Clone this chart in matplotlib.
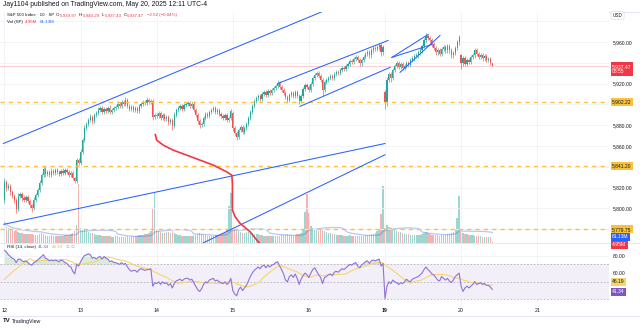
import numpy as np
import pandas as pd
import matplotlib
matplotlib.use("Agg")
import matplotlib.pyplot as plt
from matplotlib.lines import Line2D

plt.rcParams["font.family"] = ["Liberation Sans", "DejaVu Sans"]

# S&P 500 index, 10-minute bars, one list per session (May 12 .. May 20)
sessions = ["12", "13", "14", "15", "16", "19", "20", "21"]
session_open = [5807.9, 5843.5, 5889.6, 5891.5, 5916.5, 5911.7, 5947.2]

close_12 = [5825.2, 5819.5, 5821.4, 5815.6, 5811.8, 5807.9, 5799.3, 5811.8, 5813.7, 5809.9,
            5807.9, 5810.8, 5807.0, 5803.1, 5800.3, 5807.9, 5812.8, 5817.6, 5824.3, 5831.9,
            5837.7, 5832.9, 5834.8, 5831.9, 5835.8, 5833.9, 5836.8, 5834.8, 5832.9, 5835.8,
            5833.9, 5836.8, 5834.8, 5831.9, 5833.9, 5829.1, 5826.2, 5846.4, 5843.5]
close_13 = [5854.1, 5865.6, 5877.1, 5880.9, 5884.8, 5887.7, 5883.8, 5889.6, 5891.5, 5894.4,
            5896.3, 5892.5, 5895.4, 5893.4, 5896.3, 5892.5, 5894.4, 5896.3, 5897.3, 5900.2,
            5898.3, 5902.1, 5900.2, 5904.0, 5898.3, 5895.4, 5897.3, 5894.4, 5896.3, 5893.4,
            5898.3, 5900.2, 5902.1, 5901.1, 5904.0, 5902.1, 5903.0, 5887.7, 5889.6]
close_14 = [5888.6, 5891.5, 5886.7, 5889.6, 5885.7, 5887.7, 5882.9, 5884.8, 5879.0, 5889.6,
            5894.4, 5896.3, 5898.3, 5895.4, 5899.2, 5900.2, 5901.1, 5898.3, 5900.2, 5894.4,
            5889.6, 5883.8, 5880.0, 5880.9, 5886.7, 5890.6, 5888.6, 5892.5, 5894.4, 5896.3,
            5892.5, 5894.4, 5890.6, 5888.6, 5886.7, 5889.6, 5884.8, 5886.7, 5893.4]
close_15 = [5877.1, 5872.3, 5868.5, 5875.2, 5878.1, 5873.3, 5877.1, 5880.9, 5886.7, 5892.5,
            5898.3, 5903.0, 5905.9, 5907.9, 5905.0, 5909.8, 5911.7, 5908.8, 5912.7, 5910.7,
            5913.6, 5915.5, 5917.4, 5920.3, 5916.5, 5913.6, 5910.7, 5906.9, 5904.0, 5908.8,
            5910.7, 5907.9, 5911.7, 5907.9, 5903.0, 5907.9, 5914.6, 5918.4, 5916.5]
close_16 = [5913.6, 5919.4, 5925.1, 5928.0, 5929.9, 5927.1, 5923.2, 5913.6, 5921.3, 5923.2,
            5925.1, 5927.1, 5925.1, 5929.0, 5930.9, 5929.9, 5932.8, 5934.7, 5933.8, 5936.7,
            5938.6, 5941.5, 5940.5, 5943.4, 5945.3, 5942.4, 5939.5, 5942.4, 5945.3, 5948.2,
            5950.1, 5947.2, 5952.0, 5954.0, 5953.0, 5954.9, 5956.8, 5950.1, 5954.9]
close_19 = [5901.1, 5923.2, 5929.0, 5925.1, 5932.8, 5936.7, 5939.5, 5935.7, 5938.6, 5934.7,
            5936.7, 5939.5, 5937.6, 5942.4, 5944.3, 5946.3, 5947.2, 5950.1, 5952.0, 5955.9,
            5961.6, 5965.5, 5963.6, 5961.6, 5957.8, 5954.0, 5950.1, 5952.0, 5948.2, 5953.0,
            5954.9, 5952.0, 5955.9, 5952.0, 5947.2, 5949.2, 5954.0, 5959.7, 5964.5]
close_20 = [5939.5, 5944.3, 5938.6, 5942.4, 5940.5, 5945.3, 5947.2, 5952.0, 5948.2, 5945.3,
            5947.2, 5944.3, 5946.3, 5942.4, 5943.4, 5939.97, 5937.47]

# wick length above / below the body, index points
up_12 = [4, 2, 3, 2, 2, 2, 2, 3, 2, 2, 3, 2, 2, 2, 1, 3, 2, 2, 3, 2,
         3, 2, 2, 2, 3, 2, 2, 2, 2, 2, 3, 2, 2, 2, 2, 2, 1, 2, 2]
dn_12 = [3, 3, 2, 3, 2, 3, 4, 2, 2, 3, 2, 2, 2, 3, 4, 2, 2, 2, 2, 2,
         2, 3, 2, 2, 2, 2, 2, 2, 2, 2, 2, 2, 2, 2, 2, 2, 2, 2, 2]
up_13 = [3, 2, 3, 2, 2, 3, 2, 2, 2, 3, 2, 2, 2, 2, 2, 3, 2, 2, 2, 3,
         2, 2, 2, 3, 2, 2, 2, 2, 2, 2, 2, 2, 2, 2, 3, 2, 2, 2, 2]
dn_13 = [2, 2, 2, 2, 2, 2, 3, 2, 2, 2, 2, 2, 2, 2, 2, 2, 2, 2, 2, 2,
         2, 2, 2, 2, 2, 2, 2, 2, 2, 2, 2, 2, 2, 2, 2, 2, 2, 3, 2]
up_14 = [2, 2, 2, 2, 2, 2, 2, 2, 2, 3, 2, 2, 2, 2, 2, 2, 2, 2, 2, 2,
         2, 2, 2, 2, 2, 2, 2, 2, 2, 2, 2, 2, 2, 2, 2, 2, 2, 2, 2]
dn_14 = [2, 2, 2, 2, 2, 2, 3, 2, 4, 2, 2, 2, 2, 2, 2, 2, 2, 2, 2, 2,
         2, 3, 3, 2, 2, 2, 2, 2, 2, 2, 2, 2, 2, 2, 2, 2, 2, 2, 2]
up_15 = [2, 2, 2, 2, 2, 2, 2, 2, 2, 2, 2, 2, 2, 2, 2, 2, 2, 2, 2, 2,
         2, 2, 2, 3, 2, 2, 2, 2, 2, 2, 2, 2, 2, 2, 2, 2, 2, 2, 2]
dn_15 = [3, 3, 3, 2, 2, 2, 2, 2, 2, 2, 2, 2, 2, 2, 2, 2, 2, 2, 2, 2,
         2, 2, 2, 2, 2, 2, 2, 2, 3, 2, 2, 2, 2, 2, 3, 2, 2, 2, 2]
up_16 = [2, 2, 2, 2, 2, 2, 2, 2, 2, 2, 2, 2, 2, 2, 2, 2, 2, 2, 2, 2,
         2, 2, 2, 2, 2, 2, 2, 2, 2, 2, 2, 2, 2, 2, 2, 2, 2, 2, 2]
dn_16 = [2, 2, 2, 2, 2, 2, 2, 5, 2, 2, 2, 2, 2, 2, 2, 2, 2, 2, 2, 2,
         2, 2, 2, 2, 2, 2, 2, 2, 2, 2, 2, 2, 2, 2, 2, 2, 2, 3, 2]
up_19 = [2, 3, 2, 2, 2, 2, 2, 2, 2, 2, 2, 2, 2, 2, 2, 2, 2, 2, 2, 2,
         2, 3, 2, 2, 2, 2, 2, 2, 2, 2, 2, 2, 2, 2, 2, 2, 2, 2, 2]
dn_19 = [5, 3, 2, 3, 2, 2, 2, 2, 2, 2, 2, 2, 2, 2, 2, 2, 2, 2, 2, 2,
         2, 2, 2, 2, 2, 2, 2, 2, 2, 2, 2, 2, 2, 2, 2, 2, 2, 2, 2]
up_20 = [1, 2, 2, 2, 2, 2, 2, 2, 2, 2, 2, 2, 2, 2, 2, 2, 0.32]
dn_20 = [5, 2, 2, 2, 2, 2, 2, 2, 2, 2, 2, 2, 2, 2, 2, 2, 0.04]

# volume, millions
vol_12 = [122, 95, 88, 80, 74, 70, 78, 64, 60, 56, 54, 50, 55, 50, 54, 48, 46, 48, 52, 56,
          54, 46, 42, 40, 44, 38, 40, 37, 40, 38, 42, 45, 44, 48, 52, 58, 70, 105, 360]
vol_13 = [92, 80, 76, 70, 66, 60, 58, 52, 48, 46, 45, 42, 40, 38, 41, 37, 36, 35, 37, 39,
          36, 34, 33, 35, 37, 36, 39, 37, 41, 42, 45, 44, 48, 50, 54, 60, 68, 207, 305]
vol_14 = [84, 70, 66, 60, 58, 62, 66, 60, 72, 56, 50, 46, 44, 42, 40, 38, 40, 42, 40, 45,
          48, 54, 56, 50, 46, 44, 42, 40, 40, 42, 44, 46, 48, 52, 56, 62, 80, 225, 305]
vol_15 = [82, 76, 72, 70, 64, 60, 58, 62, 66, 64, 60, 55, 52, 50, 46, 44, 42, 40, 38, 40,
          42, 40, 38, 40, 42, 44, 46, 48, 50, 46, 44, 42, 46, 50, 55, 60, 80, 185, 300]
vol_16 = [183, 100, 90, 80, 75, 70, 78, 86, 72, 65, 60, 56, 52, 50, 48, 46, 44, 45, 42, 40,
          42, 44, 40, 38, 40, 42, 40, 38, 42, 44, 46, 48, 50, 55, 60, 68, 80, 177, 350]
vol_19 = [92, 110, 96, 88, 80, 75, 70, 65, 62, 58, 55, 52, 50, 48, 46, 45, 44, 46, 48, 52,
          60, 65, 58, 52, 48, 46, 45, 44, 42, 44, 46, 48, 50, 55, 58, 65, 80, 153, 287]
vol_20 = [64, 58, 55, 50, 47, 48, 45, 43, 41, 39, 37, 36, 35, 34, 33, 32.65, 4.95]

# RSI(14, close)
rsi_12 = [86, 84, 81, 79, 77, 76, 72, 76, 76, 74, 73, 74, 72, 70, 69, 72, 73, 75, 77, 79,
          81, 77, 76, 74, 75, 74, 75, 74, 73, 75, 74, 72, 71, 68, 67, 62, 59, 70, 68]
rsi_13 = [73, 77, 80, 81, 82, 81, 77, 78, 76, 78, 79, 76, 79, 77, 76, 73, 74, 72, 72, 71,
          70, 72, 70, 71, 67, 64, 62, 63, 63, 61, 64, 65, 64, 63, 64, 64, 65, 45, 49]
rsi_14 = [48, 50, 47, 50, 48, 49, 46, 48, 43, 48, 51, 52, 53, 51, 53, 54, 54, 52, 53, 49,
          45, 41, 39, 42, 47, 50, 49, 52, 53, 54, 51, 52, 50, 49, 48, 50, 47, 49, 54]
rsi_15 = [40, 36, 34, 41, 44, 40, 43, 46, 51, 56, 60, 63, 65, 67, 65, 68, 69, 66, 69, 67,
          69, 70, 72, 73, 68, 64, 59, 52, 50, 56, 58, 55, 59, 54, 47, 53, 57, 60, 58]
rsi_16 = [55, 60, 64, 66, 62, 58, 55, 48, 55, 56, 58, 59, 57, 61, 62, 61, 63, 65, 64, 66,
          68, 70, 69, 71, 72, 68, 66, 69, 71, 73, 74, 71, 74, 75, 74, 75, 76, 68, 71]
rsi_19 = [31, 45, 50, 48, 52, 50, 49, 47, 49, 48, 50, 53, 51, 50, 53, 54, 55, 56, 58, 60,
          64, 67, 64, 62, 59, 58, 55, 52, 51, 56, 54, 52, 54, 51, 49, 52, 56, 58, 60]
rsi_20 = [45, 39, 43, 45, 43, 45, 47, 50.32, 47, 48, 49, 47, 48, 46, 46, 44, 41.34]
rsi_prior = 50.0  # RSI level before the first bar, warms up the MA

# levels and drawings (bar index, price)
levels = [5902.22, 5841.20, 5779.75]
trend_lines = [
    [(-0.6, 5862.4), (164.3, 5990.5)],
    [(-0.3, 5784.6), (195.0, 5862.4)],
    [(101.7, 5766.6), (195.0, 5851.6)],
    [(140.2, 5920.3), (196.6, 5961.6)],
    [(151.5, 5898.2), (197.6, 5935.7)],
    [(198.5, 5945.3), (217.1, 5967.4)],
    [(198.5, 5945.3), (219.1, 5957.8)],
    [(202.7, 5930.9), (223.2, 5966.4)],
]
curve_bar = [77.3, 78.0, 81.4, 86.5, 93.4, 100.2, 107.0, 113.9, 116.5, 116.8, 116.8,
             118.2, 120.7, 125.8, 129.3, 132.0]
curve_px = [5871.0, 5865.6, 5860.8, 5856.0, 5851.2, 5846.4, 5841.6, 5835.1, 5831.9, 5824.0,
            5798.3, 5791.9, 5785.6, 5777.5, 5769.5, 5763.8]

UP, DN = "#26a69a", "#ef5350"
TXT = "#131722"
RED, BLUE, PURPLE = "#f23645", "#2962ff", "#7e57c2"

closes = np.array(close_12 + close_13 + close_14 + close_15 + close_16 + close_19 + close_20)
n = len(closes)
bars = np.arange(n)
day_start = np.arange(0, 39 * len(sessions), 39)
opens = np.r_[closes[0], closes[:-1]]
opens[day_start[:7]] = session_open
highs = np.maximum(opens, closes) + np.array(up_12 + up_13 + up_14 + up_15 + up_16 + up_19 + up_20)
lows = np.minimum(opens, closes) - np.array(dn_12 + dn_13 + dn_14 + dn_15 + dn_16 + dn_19 + dn_20)
volume = np.array(vol_12 + vol_13 + vol_14 + vol_15 + vol_16 + vol_19 + vol_20)
rsi = np.array(rsi_12 + rsi_13 + rsi_14 + rsi_15 + rsi_16 + rsi_19 + rsi_20, dtype=float)

vol_ma = pd.Series(volume).rolling(20, min_periods=1).mean().to_numpy()
rsi_ma = pd.Series(np.r_[np.full(13, rsi_prior), rsi]).rolling(14).mean().to_numpy()[13:]
colors = np.where(closes >= opens, UP, DN)

fig = plt.figure(figsize=(6.4, 3.28), dpi=100)


def fx(x):
    return x / 640.0


def fy(y):
    return 1.0 - y / 328.0


TOP, MID, RSI_TOP, RSI_BOT, RIGHT = 11.5, 242.5, 243.5, 305.0, 609.0
main_box = [0, fy(MID), fx(RIGHT), (MID - TOP) / 328]
axv = fig.add_axes(main_box)
ax = fig.add_axes(main_box)
axr = fig.add_axes([0, fy(RSI_BOT), fx(RIGHT), (RSI_BOT - RSI_TOP) / 328])
ax.set_zorder(3)
axv.set_zorder(2)
ax.patch.set_visible(False)

XL = (-2.3, 309.8)
for a in (axv, ax, axr):
    a.set_xlim(*XL)
    for s in a.spines.values():
        s.set_visible(False)
    a.set_xticks(day_start)
    a.tick_params(axis="x", length=0, labelbottom=False)

# volume
axv.bar(bars, volume, width=0.72, color=colors, alpha=0.45, lw=0)
axv.plot(bars, vol_ma, color=BLUE, alpha=0.35, lw=0.9)
axv.set_ylim(0, 1420)
axv.set_yticks([])
axv.grid(axis="x", color="#f0f3fa", lw=0.6)

# price pane; ticks hidden behind the level tags are left out
ax.set_ylim(5767.1, 5989.5)
ax.yaxis.tick_right()
ticks = [5800, 5820, 5860, 5880, 5920, 5940, 5960]
ax.set_yticks(ticks)
ax.set_yticklabels([f"{t:,.2f}" for t in ticks])
ax.tick_params(axis="y", length=0, pad=2.9, labelsize=3.6, labelcolor=TXT)
for t in np.arange(5780, 5981, 20):
    ax.axhline(t, color="#f0f3fa", lw=0.6, zorder=0)

ax.axhline(closes[-1], color=RED, alpha=0.28, lw=0.6, zorder=2)
ax.vlines(bars, lows, highs, colors=colors, lw=0.45, zorder=3)
ax.bar(bars, np.maximum(np.abs(closes - opens), 0.35), bottom=np.minimum(opens, closes),
       width=0.62, color=colors, lw=0, zorder=4)

for lvl in levels:
    ax.axhline(lvl, color="#f9c23c", lw=1.0, dashes=(3, 3), zorder=5)
for (x0, y0), (x1, y1) in trend_lines:
    ax.plot([x0, x1], [y0, y1], color=BLUE, lw=0.75, zorder=6)
ax.plot(curve_bar, curve_px, color=RED, lw=1.2, zorder=6)


def tag(a, y, text, fc, tc="white", dy=0.0):
    a.annotate(text, xy=(1, y), xycoords=a.get_yaxis_transform(),
               xytext=(2.3, dy), textcoords="offset points", ha="left", va="center",
               fontsize=3.6, color=tc, annotation_clip=False, zorder=30, linespacing=1.05,
               bbox=dict(boxstyle="square,pad=0.3", fc=fc, ec="none"))


for lvl in levels:
    tag(ax, lvl, f"{lvl:,.2f}", "#f9c23c", TXT)
tag(ax, closes[-1], f"{closes[-1]:,.2f}\n08:55", RED, dy=-2.5)
tag(axv, vol_ma[-1], f"{vol_ma[-1]:.2f}M", BLUE, dy=-3.0)
tag(axv, volume[-1], f"{volume[-1]:.2f}M", RED, dy=-2.2)

# RSI pane
axr.set_ylim(23.5, 93.8)
axr.axhspan(30, 70, color=PURPLE, alpha=0.09, lw=0)
for h in (70, 50, 30):
    axr.axhline(h, color="#9598a1", lw=0.6, dashes=(2, 2), alpha=0.7)
axr.fill_between(bars, rsi, 70, where=rsi > 70, interpolate=True, color="#4caf50", alpha=0.22, lw=0)
axr.plot(bars, rsi_ma, color="#f7d56b", lw=0.8)
axr.plot(bars, rsi, color="#8e72d8", lw=0.8)
axr.yaxis.tick_right()
axr.set_yticks([60, 80])
axr.set_yticklabels(["60.00", "80.00"])
axr.tick_params(axis="y", length=0, pad=2.9, labelsize=3.6, labelcolor=TXT)
axr.tick_params(axis="x", labelbottom=True, pad=2.2, labelsize=3.8, labelcolor=TXT)
axr.set_xticklabels(sessions)
axr.get_xticklabels()[5].set_fontweight("bold")
axr.grid(color="#f0f3fa", lw=0.6)
tag(axr, rsi_ma[-1], f"{rsi_ma[-1]:.2f}", "#f7d56b", TXT, dy=2.6)
tag(axr, rsi[-1], f"{rsi[-1]:.2f}", PURPLE, dy=-1.6)

# frame lines
for yy in (TOP, 243.0, 315.5):
    fig.add_artist(Line2D([0, 1], [fy(yy), fy(yy)], transform=fig.transFigure,
                          color="#e0e3eb", lw=0.6))

# header and legends, laid out left to right
renderer = fig.canvas.get_renderer()


def legend_row(items, x, y, size):
    for s, c, gap in items:
        t = fig.text(fx(x), fy(y), s, fontsize=size, color=c, va="center")
        x = t.get_window_extent(renderer).x1 + gap


fig.text(fx(3), fy(4.5), "Jay1104 published on TradingView.com, May 20, 2025 12:11 UTC-4",
         fontsize=4.9, color=TXT, va="center")
legend_row([("S&P 500 Index · 10 · SP", TXT, 2.0),
            ("O", TXT, 0.4), (f"{opens[-1]:,.2f}", RED, 2.0),
            ("H", TXT, 0.4), (f"{highs[-1]:,.2f}", RED, 2.0),
            ("L", TXT, 0.4), (f"{lows[-1]:,.2f}", RED, 2.0),
            ("C", TXT, 0.4), (f"{closes[-1]:,.2f}", RED, 2.5),
            ("−2.52 (−0.04%)", RED, 0)], 6.7, 15.2, 3.2)
legend_row([("Vol (SP)", TXT, 2.5), (f"{volume[-1]:.2f}M", RED, 2.5),
            (f"{vol_ma[-1]:.2f}M", BLUE, 0)], 6.7, 21.8, 3.2)
legend_row([("RSI (14, close)", TXT, 2.5), (f"{rsi[-1]:.2f}", PURPLE, 2.5),
            (f"{rsi_ma[-1]:.2f}", "#e8b730", 2.5), ("∅ ∅", "#9598a1", 0)], 6.7, 247.3, 3.2)

fig.text(fx(617.5), fy(15.5), "USD", fontsize=3.3, color=TXT, ha="center", va="center",
         bbox=dict(boxstyle="round,pad=0.35", fc="white", ec="#d1d4dc", lw=0.4))
fig.text(fx(3), fy(321), "TV", fontsize=4.4, weight="bold", color=TXT, va="center")
fig.text(fx(12), fy(321), "TradingView", fontsize=3.8, color=TXT, va="center")

fig.savefig("out.png", dpi=100)
